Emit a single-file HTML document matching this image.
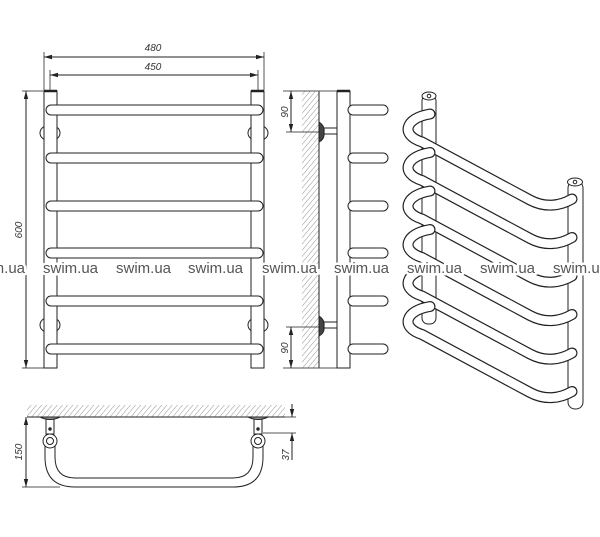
<!DOCTYPE html>
<html><head><meta charset="utf-8"><style>
html,body{margin:0;padding:0;background:#fff;}
svg{display:block;}
.d{font-family:"Liberation Sans",sans-serif;font-style:italic;font-size:10px;fill:#333;}
.w{font-family:"Liberation Sans",sans-serif;font-size:15px;fill:#555;stroke:#fff;stroke-width:5px;paint-order:stroke;}
</style></head><body>
<svg width="600" height="537" viewBox="0 0 600 537" xmlns="http://www.w3.org/2000/svg">
<defs>
<pattern id="h" width="4" height="4" patternUnits="userSpaceOnUse" patternTransform="rotate(40)">
<line x1="0" y1="0" x2="0" y2="4" stroke="#888" stroke-width="0.9"/>
</pattern>
<marker id="a" markerWidth="8" markerHeight="6" refX="8" refY="3" orient="auto-start-reverse" markerUnits="userSpaceOnUse">
<path d="M0,0.8 L8,3 L0,5.2 Z" fill="#222"/>
</marker>
</defs>
<g stroke="#222" stroke-width="1" fill="#fff">
<line x1="44" y1="52" x2="44" y2="90" stroke="#555"/>
<line x1="264" y1="52" x2="264" y2="90" stroke="#555"/>
<line x1="50" y1="70" x2="50" y2="100" stroke="#555"/>
<line x1="258" y1="70" x2="258" y2="100" stroke="#555"/>
<line x1="44" y1="57" x2="264" y2="57" marker-start="url(#a)" marker-end="url(#a)"/>
<line x1="50" y1="75" x2="258" y2="75" marker-start="url(#a)" marker-end="url(#a)"/>
<line x1="22" y1="91" x2="44" y2="91" stroke="#555"/>
<line x1="22" y1="368" x2="44" y2="368" stroke="#555"/>
<line x1="26" y1="91" x2="26" y2="368" marker-start="url(#a)" marker-end="url(#a)"/>
<ellipse cx="50" cy="133" rx="10" ry="8"/><ellipse cx="258" cy="133" rx="10" ry="8"/>
<ellipse cx="50" cy="325" rx="10" ry="8"/><ellipse cx="258" cy="325" rx="10" ry="8"/>
<rect x="44" y="91" width="13" height="277"/>
<rect x="251" y="91" width="13" height="277"/>
<line x1="44" y1="91" x2="57" y2="91" stroke-width="2.5"/>
<line x1="251" y1="91" x2="264" y2="91" stroke-width="2.5"/>
<rect x="46" y="105" width="217" height="10" rx="5"/>
<rect x="46" y="153" width="217" height="10" rx="5"/>
<rect x="46" y="201" width="217" height="10" rx="5"/>
<rect x="46" y="248" width="217" height="10" rx="5"/>
<rect x="46" y="296" width="217" height="10" rx="5"/>
<rect x="46" y="344" width="217" height="10" rx="5"/>

<rect x="302" y="91" width="17" height="277" fill="url(#h)" stroke="none"/>
<line x1="319" y1="91" x2="319" y2="368"/>
<line x1="283" y1="91" x2="337" y2="91" stroke="#555"/>
<line x1="283" y1="368" x2="337" y2="368" stroke="#555"/>
<line x1="286" y1="132" x2="322" y2="132" stroke="#555"/>
<line x1="286" y1="327" x2="322" y2="327" stroke="#555"/>
<line x1="291" y1="91" x2="291" y2="132" marker-start="url(#a)" marker-end="url(#a)"/>
<line x1="291" y1="327" x2="291" y2="368" marker-start="url(#a)" marker-end="url(#a)"/>
<rect x="323" y="128" width="14" height="6"/>
<path d="M319,122 Q325,126 324,132 Q325,139 319,142 Z" fill="#444"/>
<rect x="323" y="322" width="14" height="6"/>
<path d="M319,316 Q325,320 324,326 Q325,333 319,336 Z" fill="#444"/>
<rect x="337" y="91" width="13" height="277"/>
<line x1="337" y1="91" x2="350" y2="91" stroke-width="2.5"/>
<rect x="348" y="105" width="40" height="10" rx="5"/>
<rect x="348" y="153" width="40" height="10" rx="5"/>
<rect x="348" y="201" width="40" height="10" rx="5"/>
<rect x="348" y="248" width="40" height="10" rx="5"/>
<rect x="348" y="296" width="40" height="10" rx="5"/>
<rect x="348" y="344" width="40" height="10" rx="5"/>

<rect x="422" y="95" width="14" height="229" rx="6"/>
<ellipse cx="429" cy="96" rx="7" ry="4"/><circle cx="429" cy="96" r="1.8"/>
<rect x="568" y="181" width="15" height="228" rx="7"/>
<ellipse cx="575" cy="182" rx="7.5" ry="4"/><circle cx="575" cy="182" r="1.8"/>
<g fill="none" stroke-linecap="round">
<g id="bar">
<path d="M430,114 C405,118 400,135 422,142 L530,200 C545,208 560,206 572,199" stroke="#222" stroke-width="11"/>
<path d="M430,114 C405,118 400,135 422,142 L530,200 C545,208 560,206 572,199" stroke="#fff" stroke-width="8.6"/>
</g>
<use href="#bar" y="38.5"/>
<use href="#bar" y="77"/>
<use href="#bar" y="115.5"/>
<use href="#bar" y="154"/>
<use href="#bar" y="192.5"/>
</g>

<rect x="27" y="405" width="258" height="12" fill="url(#h)" stroke="none"/>
<line x1="27" y1="417" x2="285" y2="417"/>
<path d="M45,440 L45,457 Q45,487 75,487 L233,487 Q263,487 263,457 L263,440 L253,440 L253,457 Q253,478 233,478 L75,478 Q55,478 55,457 L55,440 Z"/>
<rect x="46" y="418" width="8" height="16"/>
<rect x="254" y="418" width="8" height="16"/>
<path d="M40,417 Q50,422 60,417 Z" fill="#999"/>
<path d="M248,417 Q258,422 268,417 Z" fill="#999"/>
<circle cx="50" cy="429" r="1.2" fill="#222"/>
<circle cx="258" cy="429" r="1.2" fill="#222"/>
<circle cx="50" cy="441" r="7"/><circle cx="50" cy="441" r="3.5"/>
<circle cx="258" cy="441" r="7"/><circle cx="258" cy="441" r="3.5"/>
<line x1="22" y1="487" x2="60" y2="487" stroke="#555"/>
<line x1="26" y1="417" x2="26" y2="487" marker-start="url(#a)" marker-end="url(#a)"/>
<line x1="285" y1="417" x2="296" y2="417" stroke="#555"/>
<line x1="263" y1="433" x2="296" y2="433" stroke="#555"/>
<line x1="292" y1="404" x2="292" y2="417" marker-end="url(#a)"/>
<line x1="292" y1="460" x2="292" y2="433" marker-end="url(#a)"/>
</g>

<text class="d" x="153" y="51" text-anchor="middle">480</text>
<text class="d" x="153" y="70" text-anchor="middle">450</text>
<text class="d" transform="translate(22,230) rotate(-90)" text-anchor="middle">600</text>
<text class="d" transform="translate(288,112) rotate(-90)" text-anchor="middle">90</text>
<text class="d" transform="translate(288,348) rotate(-90)" text-anchor="middle">90</text>
<text class="d" transform="translate(22,452) rotate(-90)" text-anchor="middle">150</text>
<text class="d" transform="translate(289,455) rotate(-90)" text-anchor="middle">37</text>

<text class="w" x="-30" y="273">swim.ua</text>
<text class="w" x="43" y="273">swim.ua</text>
<text class="w" x="116" y="273">swim.ua</text>
<text class="w" x="188" y="273">swim.ua</text>
<text class="w" x="262" y="273">swim.ua</text>
<text class="w" x="334" y="273">swim.ua</text>
<text class="w" x="407" y="273">swim.ua</text>
<text class="w" x="480" y="273">swim.ua</text>
<text class="w" x="553" y="273">swim.ua</text>
</svg>
</body></html>
